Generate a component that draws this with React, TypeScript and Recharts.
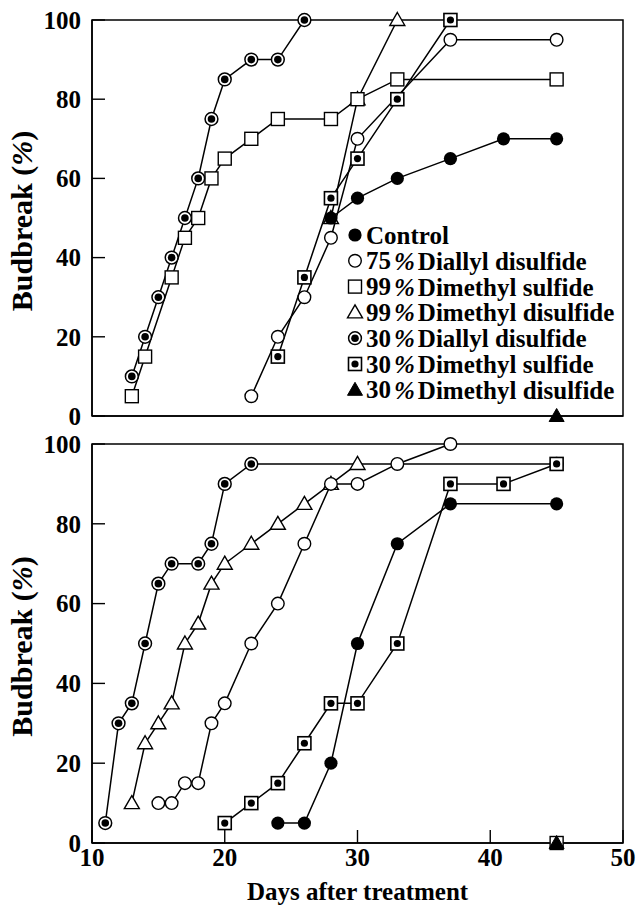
import React from 'react';
import { LineChart, Line, XAxis, YAxis, ReferenceArea, Legend } from 'recharts';

const FONT = '"Liberation Serif", "Times New Roman", Times, serif';

// ---------- axes ----------
const X_TICKS = [10, 20, 30, 40, 50];
const Y_TICKS = [0, 20, 40, 60, 80, 100];
const X_TITLE = 'Days after treatment';
const Y_TITLE = 'Budbreak (';

// ---------- top panel ----------
const topControlDays = [28, 30, 33, 37, 41, 45];
const topControlVals = [50, 55, 60, 65, 70, 70];
const topDad75Days = [22, 24, 26, 28, 30, 37, 45];
const topDad75Vals = [5, 20, 30, 45, 70, 95, 95];
const topDms99Days = [13, 14, 16, 17, 18, 19, 20, 22, 24, 28, 30, 33, 45];
const topDms99Vals = [5, 15, 35, 45, 50, 60, 65, 70, 75, 75, 80, 85, 85];
const topDmds99Days = [28, 30, 33];
const topDmds99Vals = [50, 80, 100];
const topDad30Days = [13, 14, 15, 16, 17, 18, 19, 20, 22, 24, 26];
const topDad30Vals = [10, 20, 30, 40, 50, 60, 75, 85, 90, 90, 100];
const topDms30Days = [24, 26, 28, 30, 33, 37];
const topDms30Vals = [15, 35, 55, 65, 80, 100];
const topDmds30Days = [45];
const topDmds30Vals = [0];

// ---------- bottom panel ----------
const botControlDays = [24, 26, 28, 30, 33, 37, 45];
const botControlVals = [5, 5, 20, 50, 75, 85, 85];
const botDad75Days = [15, 16, 17, 18, 19, 20, 22, 24, 26, 28, 30, 33, 37];
const botDad75Vals = [10, 10, 15, 15, 30, 35, 50, 60, 75, 90, 90, 95, 100];
const botDms99Days = [45];
const botDms99Vals = [0];
const botDmds99Days = [13, 14, 15, 16, 17, 18, 19, 20, 22, 24, 26, 28, 30];
const botDmds99Vals = [10, 25, 30, 35, 50, 55, 65, 70, 75, 80, 85, 90, 95];
const botDad30Days = [11, 12, 13, 14, 15, 16, 18, 19, 20, 22, 45];
const botDad30Vals = [5, 30, 35, 50, 65, 70, 70, 75, 90, 95, 95];
const botDms30Days = [20, 22, 24, 26, 28, 30, 33, 37, 41, 45];
const botDms30Vals = [5, 10, 15, 25, 35, 35, 50, 90, 90, 95];
const botDmds30Days = [45];
const botDmds30Vals = [0];

// ---------- legend ----------
const legendKinds = ['filledCircle', 'openCircle', 'openSquare', 'openTriangle', 'dotCircle', 'dotSquare', 'filledTriangle'];
const legendPct = ['', '75', '99', '99', '30', '30', '30'];
const legendNames = ['Control', 'Diallyl disulfide', 'Dimethyl sulfide', 'Dimethyl disulfide', 'Diallyl disulfide', 'Dimethyl sulfide', 'Dimethyl disulfide'];

const zip = (d: number[], v: number[]) => d.map((day, i) => ({ day, v: v[i] }));

function shape(kind: string, cx: number, cy: number, key?: any) {
  const sw = 1.4;
  switch (kind) {
    case 'filledCircle':
      return <circle key={key} cx={cx} cy={cy} r={6.6} fill="#000" />;
    case 'openCircle':
      return <circle key={key} cx={cx} cy={cy} r={6.3} fill="#fff" stroke="#000" strokeWidth={sw} />;
    case 'openSquare':
      return <rect key={key} x={cx - 6.5} y={cy - 6.5} width={13} height={13} fill="#fff" stroke="#000" strokeWidth={sw} />;
    case 'openTriangle':
      return <path key={key} d={`M${cx},${cy - 7.5}L${cx + 7.5},${cy + 5.5}L${cx - 7.5},${cy + 5.5}Z`} fill="#fff" stroke="#000" strokeWidth={sw} />;
    case 'filledTriangle':
      return <path key={key} d={`M${cx},${cy - 7.5}L${cx + 7.5},${cy + 5.5}L${cx - 7.5},${cy + 5.5}Z`} fill="#000" stroke="#000" strokeWidth={1} />;
    case 'dotCircle':
      return (
        <g key={key}>
          <circle cx={cx} cy={cy} r={6.4} fill="#fff" stroke="#000" strokeWidth={1.5} />
          <circle cx={cx} cy={cy} r={3.8} fill="#000" />
        </g>
      );
    case 'dotSquare':
      return (
        <g key={key}>
          <rect x={cx - 6.5} y={cy - 6.5} width={13} height={13} fill="#fff" stroke="#000" strokeWidth={1.6} />
          <circle cx={cx} cy={cy} r={3.6} fill="#000" />
        </g>
      );
    default:
      return null;
  }
}

const dotOf = (kind: string) => (props: any) => {
  const { cx, cy, index } = props;
  if (cx == null || cy == null) return <g key={index} />;
  return shape(kind, cx, cy, index);
};

const YTitle = (props: any) => {
  const vb = props.viewBox || {};
  const cx = 21;
  const cy = vb.y + vb.height / 2 + 3;
  return (
    <text x={cx} y={cy} transform={`rotate(-90 ${cx} ${cy})`} textAnchor="middle" dominantBaseline="central"
      fontFamily={FONT} fontWeight="bold" fontSize={30} fill="#000">
      {Y_TITLE}<tspan fontStyle="italic">%</tspan>)
    </text>
  );
};

const XTitle = (props: any) => {
  const vb = props.viewBox || {};
  return (
    <text x={vb.x + vb.width / 2} y={vb.y + 48} textAnchor="middle" dominantBaseline="central"
      fontFamily={FONT} fontWeight="bold" fontSize={25} fill="#000">{X_TITLE}</text>
  );
};

const LegendContent = () => (
  <svg width={290} height={186} style={{ overflow: 'visible' }}>
    {legendNames.map((name, i) => {
      const cy = 13 + i * 25.8;
      return (
        <g key={i}>
          {shape(legendKinds[i], 9, cy)}
          <text x={20} y={cy} dominantBaseline="central" fontFamily={FONT} fontWeight="bold" fontSize={25} fill="#000">
            {legendPct[i]}
            {legendPct[i] ? <tspan fontStyle="italic" dx={3}>%</tspan> : null}
            <tspan dx={legendPct[i] ? 3 : 0}>{name}</tspan>
          </text>
        </g>
      );
    })}
  </svg>
);

const tickStyle = { fontSize: 25, fontWeight: 'bold', fill: '#000', fontFamily: FONT };
const axisLineStyle = { stroke: '#000', strokeWidth: 1.5 };
const tickLineStyle = { stroke: '#000', strokeWidth: 1.4 };

type S = { data: { day: number; v: number }[]; kind: string; name: string };

const topSeries: S[] = [
  { data: zip(topDmds99Days, topDmds99Vals), kind: 'openTriangle', name: '99% Dimethyl disulfide' },
  { data: zip(topDms99Days, topDms99Vals), kind: 'openSquare', name: '99% Dimethyl sulfide' },
  { data: zip(topDad75Days, topDad75Vals), kind: 'openCircle', name: '75% Diallyl disulfide' },
  { data: zip(topDms30Days, topDms30Vals), kind: 'dotSquare', name: '30% Dimethyl sulfide' },
  { data: zip(topDad30Days, topDad30Vals), kind: 'dotCircle', name: '30% Diallyl disulfide' },
  { data: zip(topControlDays, topControlVals), kind: 'filledCircle', name: 'Control' },
  { data: zip(topDmds30Days, topDmds30Vals), kind: 'filledTriangle', name: '30% Dimethyl disulfide' },
];

const botSeries: S[] = [
  { data: zip(botDad30Days, botDad30Vals), kind: 'dotCircle', name: '30% Diallyl disulfide' },
  { data: zip(botDmds99Days, botDmds99Vals), kind: 'openTriangle', name: '99% Dimethyl disulfide' },
  { data: zip(botDad75Days, botDad75Vals), kind: 'openCircle', name: '75% Diallyl disulfide' },
  { data: zip(botControlDays, botControlVals), kind: 'filledCircle', name: 'Control' },
  { data: zip(botDms30Days, botDms30Vals), kind: 'dotSquare', name: '30% Dimethyl sulfide' },
  { data: zip(botDms99Days, botDms99Vals), kind: 'openSquare', name: '99% Dimethyl sulfide' },
  { data: zip(botDmds30Days, botDmds30Vals), kind: 'filledTriangle', name: '30% Dimethyl disulfide' },
];

function renderLines(series: S[]) {
  return series.map((s) => (
    <Line key={s.name} data={s.data} dataKey="v" name={s.name} type="linear" stroke="#000" strokeWidth={1.5}
      dot={dotOf(s.kind)} activeDot={false} isAnimationActive={false} legendType="none" />
  ));
}

export default function App() {
  return (
    <div style={{ position: 'absolute', left: 0, top: 0, width: 637, height: 906, background: '#fff', fontFamily: FONT }}>
      <div style={{ position: 'absolute', left: 0, top: 0 }}>
        <LineChart width={637} height={430} margin={{ top: 20, right: 14, bottom: 0, left: 0 }}>
          <XAxis dataKey="day" type="number" domain={[10, 50]} ticks={X_TICKS} interval={0} height={14}
            tick={false} tickSize={-13} axisLine={axisLineStyle} tickLine={tickLineStyle} allowDuplicatedCategory={false} />
          <YAxis type="number" domain={[0, 100]} ticks={Y_TICKS} interval={0} width={92}
            tick={tickStyle} tickSize={-13} tickMargin={24} axisLine={axisLineStyle} tickLine={tickLineStyle}
            label={<YTitle />} />
          <ReferenceArea x1={10} x2={50} y1={0} y2={100} fill="none" fillOpacity={0} stroke="#000" strokeWidth={1.5} />
          {renderLines(topSeries)}
          <Legend layout="vertical" align="center" verticalAlign="middle" content={<LegendContent />}
            wrapperStyle={{ position: 'absolute', left: 346, top: 222, width: 290, height: 186 }} />
        </LineChart>
      </div>
      <div style={{ position: 'absolute', left: 0, top: 424 }}>
        <LineChart width={637} height={482} margin={{ top: 20, right: 14, bottom: 0, left: 0 }}>
          <XAxis dataKey="day" type="number" domain={[10, 50]} ticks={X_TICKS} interval={0} height={63}
            tick={tickStyle} tickSize={-13} tickMargin={18} axisLine={axisLineStyle} tickLine={tickLineStyle}
            allowDuplicatedCategory={false} label={<XTitle />} />
          <YAxis type="number" domain={[0, 100]} ticks={Y_TICKS} interval={0} width={92}
            tick={tickStyle} tickSize={-13} tickMargin={24} axisLine={axisLineStyle} tickLine={tickLineStyle}
            label={<YTitle />} />
          <ReferenceArea x1={10} x2={50} y1={0} y2={100} fill="none" fillOpacity={0} stroke="#000" strokeWidth={1.5} />
          {renderLines(botSeries)}
        </LineChart>
      </div>
    </div>
  );
}
